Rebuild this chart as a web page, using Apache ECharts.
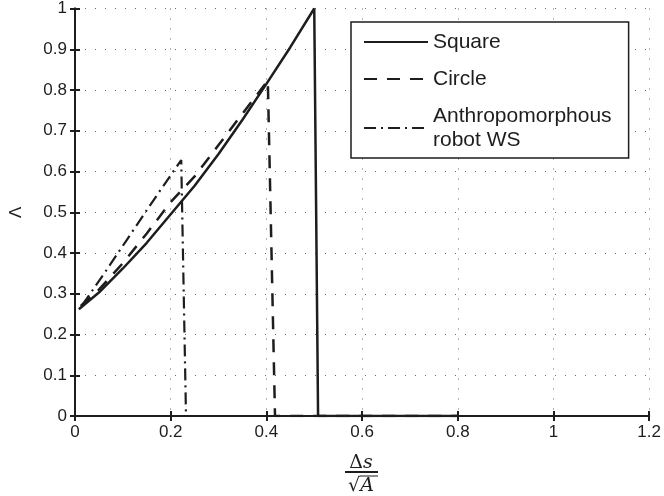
<!DOCTYPE html>
<html>
<head>
<meta charset="utf-8">
<script src="https://cdn.jsdelivr.net/npm/echarts@6/dist/echarts.min.js"></script>
<style>
  html, body { margin: 0; padding: 0; background: #fff; }
  #main { width: 664px; height: 496px; }
</style>
</head>
<body>
<div id="main"></div>
<script>
// 数据
var seriesNames = ['Square', 'Circle', 'Anthropomorphous robot WS'];
var squareX = [0.008, 0.05, 0.1, 0.15, 0.2, 0.25, 0.3, 0.35, 0.4, 0.45, 0.5, 0.508, 0.8];
var squareY = [0.262, 0.303, 0.362, 0.425, 0.495, 0.565, 0.643, 0.727, 0.815, 0.905, 1.0, 0, 0];
var circleX = [0.012, 0.05, 0.1, 0.15, 0.2, 0.25, 0.3, 0.35, 0.403, 0.418, 0.8];
var circleY = [0.27, 0.31, 0.375, 0.448, 0.525, 0.588, 0.665, 0.742, 0.823, 0, 0];
var robotX = [0.015, 0.06, 0.107, 0.15, 0.176, 0.222, 0.232, 0.8];
var robotY = [0.272, 0.348, 0.43, 0.505, 0.55, 0.628, 0, 0];

function pairs(xs, ys) {
  return xs.map(function (x, i) { return [x, ys[i]]; });
}

var myChart = echarts.init(document.getElementById('main'));
var font = 'Liberation Sans, Arial, sans-serif';
var ink = '#1d1d1d';
var axisBlack = { show: true, lineStyle: { color: ink, width: 2 } };
var tickIn = { show: true, inside: true, length: 5, lineStyle: { color: ink, width: 2 } };
var dotted = { show: true, lineStyle: { color: '#6a6a6a', width: 1, type: [1, 9] } };

option = {
  animation: false,
  backgroundColor: '#fff',
  textStyle: { fontFamily: font },
  grid: { left: 70, right: 13, top: 8, bottom: 80, containLabel: false },
  legend: {
    orient: 'vertical',
    left: 351,
    top: 22,
    padding: [8, 17, 6, 12],
    itemGap: 13,
    itemWidth: 64,
    itemHeight: 14,
    backgroundColor: '#fff',
    borderColor: ink,
    borderWidth: 1.5,
    borderRadius: 0,
    itemStyle: { opacity: 0 },
    data: seriesNames,
    formatter: function (n) { return n === seriesNames[2] ? 'Anthropomorphous\nrobot WS' : n; },
    textStyle: { fontSize: 21, color: ink, fontFamily: font, lineHeight: 24 }
  },
  xAxis: [{
    type: 'value',
    min: 0, max: 1.2, interval: 0.2,
    axisLine: axisBlack,
    axisTick: tickIn,
    splitLine: dotted,
    axisLabel: { fontSize: 17, color: ink, margin: 8 }
  }, {
    type: 'value', position: 'top',
    min: 0, max: 1.2, interval: 0.2,
    axisLine: axisBlack, axisTick: tickIn,
    splitLine: { show: false }, axisLabel: { show: false }
  }],
  yAxis: [{
    type: 'value',
    min: 0, max: 1, interval: 0.1,
    name: 'Λ',
    nameLocation: 'middle',
    nameGap: 50,
    nameRotate: 90,
    nameTextStyle: { fontSize: 17, color: ink },
    axisLine: axisBlack,
    axisTick: tickIn,
    splitLine: dotted,
    axisLabel: { fontSize: 17, color: ink, margin: 8 }
  }, {
    type: 'value', position: 'right',
    min: 0, max: 1, interval: 0.1,
    axisLine: axisBlack, axisTick: tickIn,
    splitLine: { show: false }, axisLabel: { show: false }
  }],
  graphic: [
    {
      type: 'text',
      style: {
        x: 361, y: 463, align: 'center', verticalAlign: 'middle',
        text: '{a|Δ}{b|s}',
        rich: {
          a: { fontSize: 19, fontFamily: 'DejaVu Serif', fill: ink },
          b: { fontSize: 19, fontFamily: 'DejaVu Serif', fontStyle: 'italic', fill: ink }
        }
      }
    },
    { type: 'line', shape: { x1: 345, y1: 472, x2: 378, y2: 472 }, style: { stroke: ink, lineWidth: 2 } },
    {
      type: 'text',
      style: {
        x: 361, y: 486, align: 'center', verticalAlign: 'middle',
        text: '{a|√}{b|A}',
        rich: {
          a: { fontSize: 19, fontFamily: 'DejaVu Serif', fill: ink },
          b: { fontSize: 19, fontFamily: 'DejaVu Serif', fontStyle: 'italic', fill: ink }
        }
      }
    },
    { type: 'line', shape: { x1: 360, y1: 476, x2: 378, y2: 476 }, style: { stroke: ink, lineWidth: 1 } }
  ],
  series: [{
    name: seriesNames[0],
    type: 'line',
    symbol: 'none',
    data: pairs(squareX, squareY),
    lineStyle: { color: ink, width: 2.5, type: 'solid' },
    itemStyle: { color: ink }
  }, {
    name: seriesNames[1],
    type: 'line',
    symbol: 'none',
    data: pairs(circleX, circleY),
    lineStyle: { color: ink, width: 2.5, type: [13, 10] },
    itemStyle: { color: ink }
  }, {
    name: seriesNames[2],
    type: 'line',
    symbol: 'none',
    data: pairs(robotX, robotY),
    lineStyle: { color: ink, width: 2.2, type: [12, 5, 2, 5] },
    itemStyle: { color: ink }
  }]
};
myChart.setOption(option);
</script>
</body>
</html>
